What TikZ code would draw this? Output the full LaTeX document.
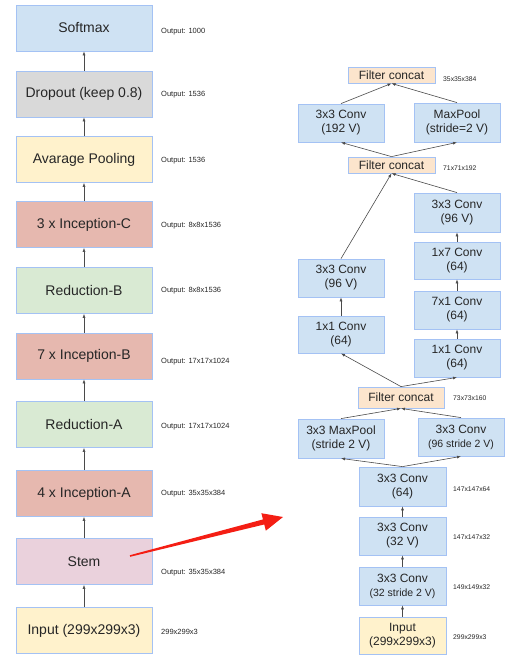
\documentclass[tikz,border=0pt]{standalone}
\usepackage{fontspec}
\setmainfont{Liberation Sans}
\usepackage{tikz}
\usetikzlibrary{arrows.meta,calc}
\definecolor{boxline}{RGB}{164,194,244}
\definecolor{softblue}{HTML}{CFE2F3}
\definecolor{dropgray}{HTML}{D9D9D9}
\definecolor{paleyellow}{HTML}{FFF2CC}
\definecolor{incred}{HTML}{E6B8AF}
\definecolor{redgreen}{HTML}{D9EAD3}
\definecolor{stempink}{HTML}{EAD1DC}
\definecolor{peach}{HTML}{FCE5CD}
\definecolor{textgray}{HTML}{262626}
\definecolor{linegray}{HTML}{4A4A4A}
\definecolor{zoomred}{HTML}{F41E14}
\tikzstyle{block}=[draw=boxline, line width=0.8pt, inner sep=0pt, align=center, text=textgray]
\tikzstyle{layer}=[block, minimum width=136pt, minimum height=46pt, font=\fontsize{14}{16}\selectfont]
\tikzstyle{conv}=[block, fill=softblue, minimum width=86pt, font=\fontsize{12}{14}\selectfont]
\tikzstyle{concat}=[conv, fill=peach]
\tikzstyle{note}=[anchor=west, inner sep=0pt, text=textgray, font=\fontsize{7.5}{9}\selectfont]
\tikzstyle{tiny}=[note, font=\fontsize{6.8}{8}\selectfont]
\tikzstyle{flow}=[draw=linegray, line width=0.6pt, -{Latex[length=4pt,width=3pt]}]
\newcommand{\smallline}[1]{{\fontsize{10.5}{12}\selectfont #1}}

\begin{document}
\begin{tikzpicture}[x=1pt, y=-1pt]
			\useasboundingbox (0,0) rectangle (514,661);
			% the main network, bottom to top, using a loop
			\foreach \name/\y/\col/\txt/\out/\oy in {
				softmax/28/softblue/Softmax/Output: 1000/32,
				dropout/94/dropgray/Dropout (keep 0.8)/Output: 1536/95,
				avgpool/159.5/paleyellow/Avarage Pooling/Output: 1536/161,
				incc/224.5/incred/3 x Inception-C/Output: 8x8x1536/226,
				redb/290.5/redgreen/Reduction-B/Output: 8x8x1536/291,
				incb/356/incred/7 x Inception-B/Output: 17x17x1024/362,
				reda/424.5/redgreen/Reduction-A/Output: 17x17x1024/427,
				inca/493.5/incred/4 x Inception-A/Output: 35x35x384/494,
				stem/561.5/stempink/Stem/Output: 35x35x384/573,
				input/630.5/paleyellow/Input (299x299x3)/299x299x3/632}{
				\node[layer, fill=\col] (\name) at (84,\y) {\txt};
				\node[note] (\name-out) at (161,\oy) {\out};
			}
			\foreach \a/\b in {input/stem, stem/inca, inca/reda, reda/incb, incb/redb,
				redb/incc, incc/avgpool, avgpool/dropout, dropout/softmax}{
				\draw[flow] (\a) -- (\b);
			}
			% the stem, expanded
			\node[concat, minimum width=87pt, minimum height=16pt] (cat3) at (391.5,75) {Filter concat};
			\node[conv, minimum height=38pt] (conv192) at (341,123) {3x3 Conv\\(192 V)};
			\node[conv, minimum height=39pt] (pool2) at (457,122.5) {MaxPool\\(stride=2 V)};
			\node[concat, minimum width=87pt, minimum height=16pt] (cat2) at (391.5,165) {Filter concat};
			\node[conv, minimum height=39pt] (conv96r) at (457,212.5) {3x3 Conv\\(96 V)};
			\node[conv, minimum height=37pt] (conv17) at (457,260.5) {1x7 Conv\\(64)};
			\node[conv, minimum height=38pt] (conv96l) at (341,278) {3x3 Conv\\(96 V)};
			\node[conv, minimum height=38pt] (conv71) at (457,310) {7x1 Conv\\(64)};
			\node[conv, minimum height=37pt] (conv11l) at (341,334.5) {1x1 Conv\\(64)};
			\node[conv, minimum height=38pt] (conv11r) at (457,358) {1x1 Conv\\(64)};
			\node[concat, minimum height=21pt] (cat1) at (401,397.5) {Filter concat};
			\node[conv, minimum height=39pt] (pool1) at (341,438.5) {3x3 MaxPool\\(stride 2 V)};
			\node[conv, minimum height=38pt] (conv96s) at (461,437) {3x3 Conv\\\smallline{(96 stride 2 V)}};
			\node[conv, minimum width=87pt, minimum height=39pt] (conv64) at (402.5,486.5) {3x3 Conv\\(64)};
			\node[conv, minimum width=87pt, minimum height=38pt] (conv32) at (402.5,536) {3x3 Conv\\(32 V)};
			\node[conv, minimum width=87pt, minimum height=38pt] (conv32s) at (402.5,586) {3x3 Conv\\\smallline{(32 stride 2 V)}};
			\node[conv, fill=paleyellow, minimum width=87pt, minimum height=37pt] (inputr) at (402.5,635.5) {Input\\(299x299x3)};
			% sizes
			\node[tiny] (cat3-out) at (443,79) {35x35x384};
			\node[tiny] (cat2-out) at (443,168) {71x71x192};
			\node[tiny] (cat1-out) at (453,398) {73x73x160};
			\node[tiny] (conv64-out) at (453,489) {147x147x64};
			\node[tiny] (conv32-out) at (453,537) {147x147x32};
			\node[tiny] (conv32s-out) at (453,587) {149x149x32};
			\node[tiny] (inputr-out) at (453,637) {299x299x3};
			% connectors
			\foreach \a/\b in {inputr/conv32s, conv32s/conv32, conv32/conv64,
				conv11l/conv96l, conv11r/conv71, conv71/conv17, conv17/conv96r}{
				\draw[flow] (\a) -- (\b);
			}
			\foreach \a/\b in {conv64/pool1, conv64/conv96s, pool1/cat1, conv96s/cat1,
				cat1/conv11l, cat1/conv11r, conv96l/cat2, conv96r/cat2,
				cat2/conv192, cat2/pool2, conv192/cat3, pool2/cat3}{
				\draw[flow] (\a.north) -- (\b.south);
			}
			% zoom arrow, shaft gets wider towards the head
			\coordinate (zoomstart) at (130,556);
			\coordinate (zoomend) at (283,517);
			\coordinate (headbase) at ($(zoomend)!20pt!(zoomstart)$);
			\fill[zoomred] ($(zoomstart)!0.8pt!90:(zoomend)$) -- ($(headbase)!2.6pt!90:(zoomend)$)
				-- ($(headbase)!9pt!90:(zoomend)$) -- (zoomend) -- ($(headbase)!9pt!-90:(zoomend)$)
				-- ($(headbase)!2.6pt!-90:(zoomend)$) -- ($(zoomstart)!0.8pt!-90:(zoomend)$) -- cycle;
		\end{tikzpicture}
\end{document}
